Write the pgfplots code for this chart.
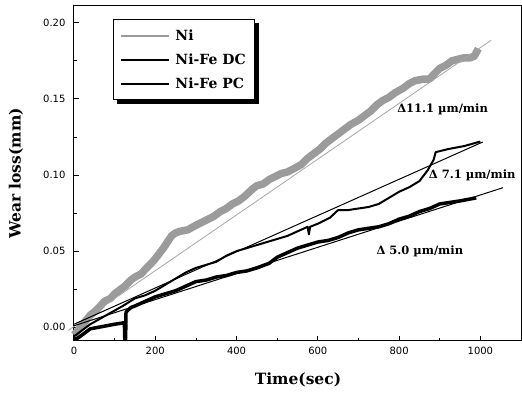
\documentclass[border=0pt]{standalone}
\usepackage{fontspec}
\usepackage{pgfplots}
\pgfplotsset{compat=1.18}
\usetikzlibrary{backgrounds}
\newfontfamily\labfont{DejaVu Serif}
\newfontfamily\tickfont{DejaVu Sans}
\definecolor{nigray}{RGB}{155,155,155}
\begin{document}
\begin{tikzpicture}
\begin{axis}[
  scale only axis, width=447pt, height=335pt,
  xmin=0, xmax=1100, ymin=-0.009, ymax=0.211,
  clip=false,
  axis line style={line width=1pt},
  tick align=inside, xtick pos=bottom, ytick pos=left,
  major tick length=5pt, minor tick length=3pt,
  tick style={black, line width=0.8pt},
  xtick={0,200,400,600,800,1000}, minor x tick num=1,
  ytick={0,0.05,0.10,0.15,0.20}, minor y tick num=1,
  xticklabel style={/pgf/number format/set thousands separator={}, yshift=-3pt},
  yticklabel style={/pgf/number format/fixed, /pgf/number format/fixed zerofill, /pgf/number format/precision=2, xshift=-5pt},
  /pgf/number format/assume math mode=true,
  ticklabel style={font=\tickfont\fontsize{10}{12}\selectfont},
  xlabel={Time(sec)}, ylabel={Wear loss(mm)},
  label style={font=\labfont\bfseries\fontsize{15.5}{18}\selectfont},
  xlabel style={at={(axis description cs:0.501,-0.116)}, anchor=center},
  ylabel style={at={(axis description cs:-0.130,0.5)}, anchor=center},
  legend style={name=leg, at={(0.087,0.961)}, anchor=north west, draw=black, line width=0.8pt,
    fill=white, font=\labfont\bfseries\fontsize{14}{16}\selectfont,
    inner xsep=7pt, inner ysep=8pt, row sep=8pt, column sep=3pt},
  legend cell align=left,
  legend image code/.code={\draw[#1] (0pt,0pt) -- (48pt,0pt);},
]
\addlegendimage{nigray, line width=2pt}
\addlegendentry{Ni}
\addlegendimage{black, line width=2pt}
\addlegendentry{Ni-Fe DC}
\addlegendimage{black, line width=2.2pt}
\addlegendentry{Ni-Fe PC}
% Ni data band
\addplot[forget plot, nigray, line width=7.5pt, line join=round] coordinates {
(0,-0.005) (10,-0.002) (25,0.003) (40,0.008) (50,0.010) (65,0.014) (75,0.017) (90,0.019) (100,0.022) (115,0.025) (125,0.027)
(140,0.031) (150,0.033) (165,0.035) (175,0.038) (190,0.042) (200,0.045) (220,0.052) (240,0.060) (250,0.062) (260,0.063) (280,0.064)
(300,0.067) (315,0.069) (330,0.071) (345,0.073) (360,0.076) (375,0.078) (390,0.081) (405,0.083) (420,0.086) (440,0.091) (450,0.093) (465,0.094) (480,0.097)
(495,0.099) (510,0.101) (525,0.102) (540,0.104) (560,0.107) (575,0.111) (590,0.114) (605,0.117) (620,0.121) (635,0.124) (650,0.127) (665,0.130) (680,0.133)
(700,0.136) (715,0.139) (730,0.142) (745,0.146) (760,0.149) (775,0.151) (790,0.154) (810,0.157) (825,0.160) (840,0.162) (860,0.163)
(875,0.163) (885,0.166) (900,0.170) (915,0.172) (930,0.175) (945,0.176) (960,0.177) (975,0.177) (985,0.178) (995,0.183)
};
% Ni fit
\addplot[forget plot, gray!70, line width=0.8pt] coordinates {(-14,-0.002) (1027,0.1886)};
% PC data
\addplot[forget plot, black, line width=3.5pt, line join=round] coordinates {
(0,-0.008) (10,-0.007) (25,-0.004) (40,-0.001) (60,0.000) (80,0.001) (100,0.002)
(124,0.003) (125,-0.008) (127,-0.008) (128,0.010) (140,0.013) (150,0.014) (175,0.017)
(200,0.020) (225,0.022) (250,0.024) (275,0.027) (300,0.030) (325,0.031) (350,0.033) (375,0.034) (400,0.036) (425,0.037) (450,0.039) (480,0.042)
(500,0.046) (525,0.049) (550,0.052) (575,0.054) (600,0.056) (625,0.057) (650,0.059) (675,0.062) (700,0.064) (725,0.065) (750,0.066) (775,0.068) (800,0.071)
(825,0.073) (850,0.076) (875,0.078) (900,0.081) (925,0.082) (950,0.083) (970,0.084) (990,0.085)
};
% DC data
\addplot[forget plot, black, line width=2pt, line join=round] coordinates {
(0,-0.006) (20,-0.002) (40,0.002) (60,0.005) (80,0.008) (100,0.011) (120,0.014)
(150,0.019) (175,0.021) (200,0.024) (225,0.028) (250,0.032) (275,0.036) (300,0.039) (325,0.041) (350,0.043) (375,0.047) (400,0.050) (425,0.052) (450,0.054)
(475,0.056) (500,0.058) (525,0.060) (550,0.063) (575,0.066) (578,0.061) (581,0.066) (600,0.068) (630,0.072)
(650,0.077) (675,0.077) (700,0.078) (725,0.079) (750,0.081) (775,0.085) (800,0.089) (825,0.092) (850,0.096) (870,0.103) (885,0.110)
(890,0.115) (920,0.117) (960,0.119) (1000,0.122)
};
% fits
\addplot[forget plot, black, line width=1pt] coordinates {(0,0.002) (1006,0.1217)};
\addplot[forget plot, black, line width=1pt] coordinates {(0,0.001) (1056,0.0917)};
\node[font=\labfont\bfseries\fontsize{11.5}{13}\selectfont] at (axis cs:907,0.143) {Δ11.1 µm/min};
\node[font=\labfont\bfseries\fontsize{11.5}{13}\selectfont] at (axis cs:980,0.100) {Δ 7.1 µm/min};
\node[font=\labfont\bfseries\fontsize{11.5}{13}\selectfont] at (axis cs:851,0.050) {Δ 5.0 µm/min};
\end{axis}
\begin{pgfonlayer}{background}
\fill[black] ([shift={(4pt,-4pt)}]leg.south west) rectangle ([shift={(4pt,-4pt)}]leg.north east);
\end{pgfonlayer}
\pgfresetboundingbox
\path[use as bounding box] ([shift={(-74pt,-54pt)}]current axis.south west) rectangle ([shift={(1pt,6pt)}]current axis.north east);
\end{tikzpicture}
\end{document}
